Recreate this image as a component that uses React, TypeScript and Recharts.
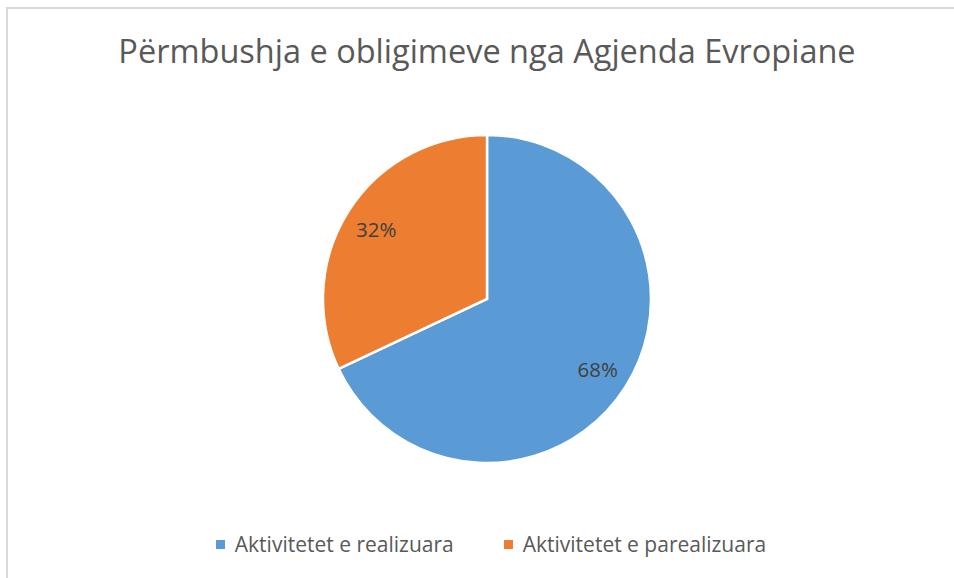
import React from "react";
import { PieChart, Pie, Cell, Legend } from "recharts";

const categories = ["Aktivitetet e realizuara", "Aktivitetet e parealizuara"];
const values = [68, 32];
const colors = ["#5B9BD5", "#ED7D31"];
const title = "Përmbushja e obligimeve nga Agjenda Evropiane";

const data = categories.map((name, i) => ({ name, value: values[i] }));

const RAD = Math.PI / 180;

const renderLabel = (props: any) => {
  const { cx, cy, midAngle, outerRadius, percent } = props;
  const r = outerRadius * 0.8;
  const x = cx + r * Math.cos(-midAngle * RAD);
  const y = cy + r * Math.sin(-midAngle * RAD);
  return (
    <text
      x={x}
      y={y}
      fill="#404040"
      textAnchor="middle"
      dominantBaseline="central"
      fontFamily="'Open Sans', sans-serif"
      fontSize={20.5}
    >
      {`${Math.round(percent * 100)}%`}
    </text>
  );
};

const renderLegend = () => {
  return (
    <div style={{ display: "flex", justifyContent: "center", alignItems: "center", paddingLeft: 28, fontFamily: "'Open Sans', sans-serif", fontSize: 21, color: "#595959" }}>
      {categories.map((name, i) => (
        <div key={name} style={{ display: "flex", alignItems: "center", marginRight: i === 0 ? 50 : 0 }}>
          <span style={{ display: "inline-block", width: 9, height: 9, background: colors[i], marginRight: 10 }} />
          <span>{name}</span>
        </div>
      ))}
    </div>
  );
};

export default function App() {
  return (
    <div style={{ position: "absolute", left: 0, top: 0, width: 954, height: 578, overflow: "hidden", background: "#fff" }}>
      <div style={{ position: "absolute", left: 6, top: 7, width: 1000, height: 1000, borderLeft: "2px solid #d9d9d9", borderTop: "2px solid #d9d9d9" }} />
      <div style={{ position: "absolute", left: 0, top: 0 }}>
        <PieChart width={954} height={578} margin={{ top: 0, right: 0, bottom: 0, left: 0 }}>
          <text x={487} y={63} textAnchor="middle" fill="#595959" fontFamily="'Open Sans', sans-serif" fontSize={32.5}>
            {title}
          </text>
          <Pie
            data={data}
            dataKey="value"
            nameKey="name"
            cx={487}
            cy={299}
            outerRadius={164}
            startAngle={90}
            endAngle={-270}
            stroke="#ffffff"
            strokeWidth={2.5}
            label={renderLabel}
            labelLine={false}
            isAnimationActive={false}
          >
            {data.map((d, i) => (
              <Cell key={d.name} fill={colors[i]} />
            ))}
          </Pie>
          <Legend
            content={renderLegend}
            wrapperStyle={{ left: 0, top: 530, width: 954 }}
          />
        </PieChart>
      </div>
    </div>
  );
}
